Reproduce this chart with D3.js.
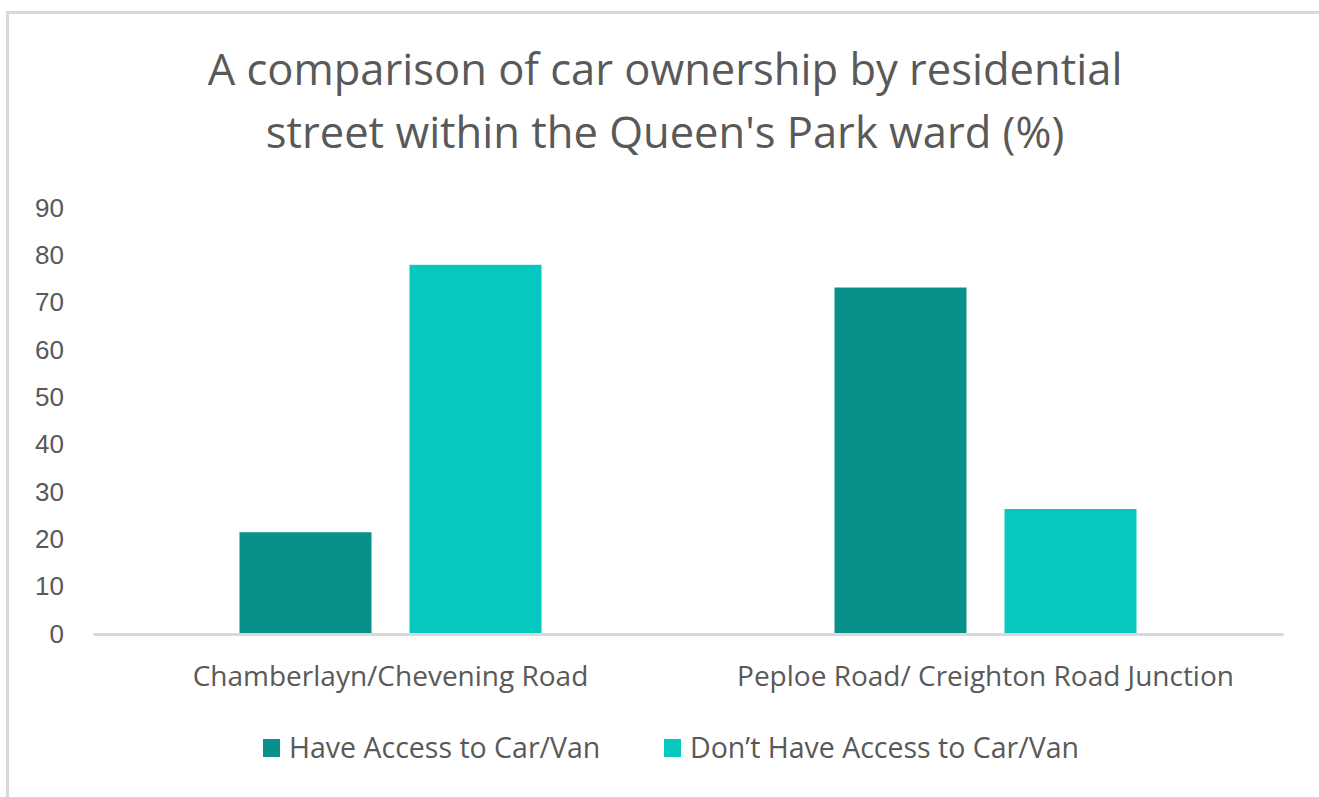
<!DOCTYPE html>
<html>
<head>
<meta charset="utf-8">
<script src="https://cdn.jsdelivr.net/npm/d3@7"></script>
<style>
  body { margin: 0; background: #fff; }
  svg text { font-family: "Open Sans", Roboto, sans-serif; fill: #595959; }
</style>
</head>
<body>
<svg id="chart" width="1319" height="797"></svg>
<script>
var titleLines = ["A comparison of car ownership by residential", "street within the Queen's Park ward (%)"];
var streets = ["Chamberlayn/Chevening Road", "Peploe Road/ Creighton Road Junction"];
var seriesNames = ["Have Access to Car/Van", "Don\u2019t Have Access to Car/Van"];
var haveAccess = [21.5, 73.2];
var noAccess = [78.0, 26.4];
var yTicks = [0, 10, 20, 30, 40, 50, 60, 70, 80, 90];
var colours = ["#07918a", "#06c8bf"];

var svg = d3.select("#chart");

// frame of the chart area (top and left edges show)
svg.append("path")
  .attr("d", "M7.5,797 V12.5 H1319")
  .attr("fill", "none")
  .attr("stroke", "#d9d9d9")
  .attr("stroke-width", 3);

svg.append("g").selectAll("text")
  .data(titleLines).enter()
  .append("text")
    .attr("x", 665)
    .attr("y", function(d, i) { return 85 + i * 63; })
    .attr("text-anchor", "middle")
    .style("font-size", "43.5px")
    .text(function(d) { return d; });

var rows = streets.map(function(s, i) {
  return { street: s, values: [haveAccess[i], noAccess[i]] };
});

var x0 = d3.scaleBand().domain(streets).range([93, 1283])
  .paddingInner(0.4924).paddingOuter(0.2462);
var x1 = d3.scaleBand().domain(seriesNames).range([0, x0.bandwidth()])
  .paddingInner(0.2235);
var y = d3.scaleLinear().domain([0, 90]).range([634, 208]);

svg.append("g")
  .attr("transform", "translate(93,0)")
  .call(d3.axisLeft(y).tickValues(yTicks).tickSize(0).tickPadding(29))
  .call(function(g) { g.select(".domain").remove(); })
  .selectAll("text")
    .style("font-size", "26px")
    .style("font-family", "'Liberation Sans', Arial, sans-serif");

var groups = svg.append("g").selectAll("g")
  .data(rows).enter()
  .append("g")
    .attr("transform", function(d) { return "translate(" + x0(d.street) + ",0)"; });

groups.selectAll("rect")
  .data(function(d) { return d.values.map(function(v, i) { return { key: seriesNames[i], value: v, i: i }; }); })
  .enter()
  .append("rect")
    .attr("x", function(d) { return x1(d.key); })
    .attr("width", x1.bandwidth())
    .attr("y", function(d) { return y(d.value); })
    .attr("height", function(d) { return y(0) - y(d.value); })
    .attr("fill", function(d) { return colours[d.i]; });

var xAxis = svg.append("g")
  .attr("transform", "translate(0," + y(0) + ")")
  .call(d3.axisBottom(x0).tickSize(0).tickPadding(32).tickSizeOuter(0));
xAxis.select(".domain").attr("stroke", "#d9d9d9").attr("stroke-width", 3);
xAxis.selectAll("text").style("font-size", "28px");

// legend
var legend = svg.append("g").attr("transform", "translate(0,748)");
var legendX = [263, 664];
var items = legend.selectAll("g")
  .data(seriesNames).enter()
  .append("g")
    .attr("transform", function(d, i) { return "translate(" + legendX[i] + ",0)"; });
items.append("rect")
  .attr("y", -9)
  .attr("width", 17)
  .attr("height", 18)
  .attr("fill", function(d, i) { return colours[i]; });
items.append("text")
  .attr("x", 26)
  .attr("dy", "0.36em")
  .style("font-size", "28.5px")
  .text(function(d) { return d; });
</script>
</body>
</html>
